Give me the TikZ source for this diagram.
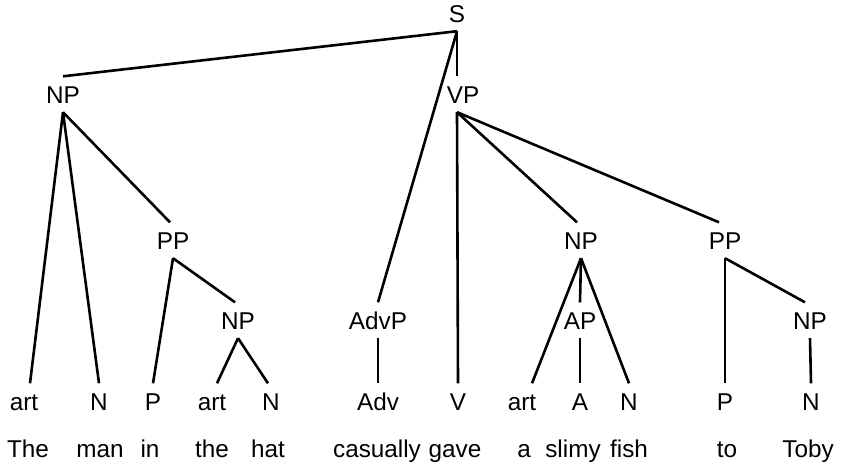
\documentclass[tikz,border=0pt]{standalone}
\usepackage{fontspec}
\setmainfont{Liberation Sans}
\usetikzlibrary{positioning}

\begin{document}
\begin{tikzpicture}[
  x=1pt, y=-1pt,
  every node/.style={font=\fontsize{24.3}{28}\selectfont},
  cat/.style={anchor=base,inner xsep=0pt,inner ysep=9pt,text height=17.5pt,text depth=0pt},
  word/.style={anchor=base,inner sep=0pt},
  branch/.style={line width=2.6pt}
]
\useasboundingbox (0,0) rectangle (848,466);
% phrase labels
\node[cat] (s) at (457,22) {S};
\node[cat] (np) at (63,103) {NP};
\node[cat] (vp) at (463,103) {VP};
\node[cat] (pp) at (173,249) {PP};
\node[cat] (obj) at (581,249) {NP};
\node[cat] (topp) at (725,249) {PP};
\node[cat] (pobj) at (238,329) {NP};
\node[cat] (advp) at (378,329) {AdvP};
\node[cat] (ap) at (580,329) {AP};
\node[cat] (tonp) at (810,329) {NP};
\coordinate (vp-top) at ([xshift=-6pt]vp.north);
\coordinate (vp-bot) at ([xshift=-6pt]vp.south);
% word classes
\node[cat] (art1) at (24,410) {art};
\node[cat] (n1) at (99,410) {N};
\node[cat] (p1) at (153,410) {P};
\node[cat] (art2) at (212,410) {art};
\node[cat] (n2) at (271,410) {N};
\node[cat] (adv) at (378,410) {Adv};
\node[cat] (v) at (458,410) {V};
\node[cat] (art3) at (522,410) {art};
\node[cat] (a) at (580,410) {A};
\node[cat] (n3) at (629,410) {N};
\node[cat] (p2) at (725,410) {P};
\node[cat] (n4) at (811,410) {N};
% the sentence
\node[word] (w1) at (28,457) {The};
\node[word] (w2) at (100,457) {man};
\node[word] (w3) at (150,457) {in};
\node[word] (w4) at (212,457) {the};
\node[word] (w5) at (268,457) {hat};
\node[word] (w6) at (377,457) {casually};
\node[word] (w7) at (455,457) {gave};
\node[word] (w8) at (524,457) {a};
\node[word] (w9) at (573,457) {slimy};
\node[word] (w10) at (629,457) {fish};
\node[word] (w11) at (727,457) {to};
\node[word] (w12) at (808,457) {Toby};
% branches
\draw[branch] (s.south)--(np.north); \draw[branch] (s.south)--(vp-top); \draw[branch] (s.south)--(advp.north);
\draw[branch] (np.south)--([xshift=6pt]art1.north); \draw[branch] (np.south)--(n1.north); \draw[branch] (np.south)--([xshift=-3pt]pp.north);
\draw[branch] (pp.south)--(p1.north); \draw[branch] (pp.south)--([xshift=-3pt]pobj.north);
\draw[branch] (pobj.south)--([xshift=5pt]art2.north); \draw[branch] (pobj.south)--([xshift=-3pt]n2.north);
\draw[branch] (advp.south)--(adv.north);
\draw[branch] (vp-bot)--(v.north); \draw[branch] (vp-bot)--([xshift=-4pt]obj.north); \draw[branch] (vp-bot)--([xshift=-6pt]topp.north);
\draw[branch] (obj.south)--([xshift=10pt]art3.north); \draw[branch] (obj.south)--(ap.north); \draw[branch] (obj.south)--(n3.north);
\draw[branch] (ap.south)--(a.north);
\draw[branch] (topp.south)--(p2.north); \draw[branch] (topp.south)--([xshift=-5pt]tonp.north);
\draw[branch] (tonp.south)--(n4.north);
\end{tikzpicture}
\end{document}
